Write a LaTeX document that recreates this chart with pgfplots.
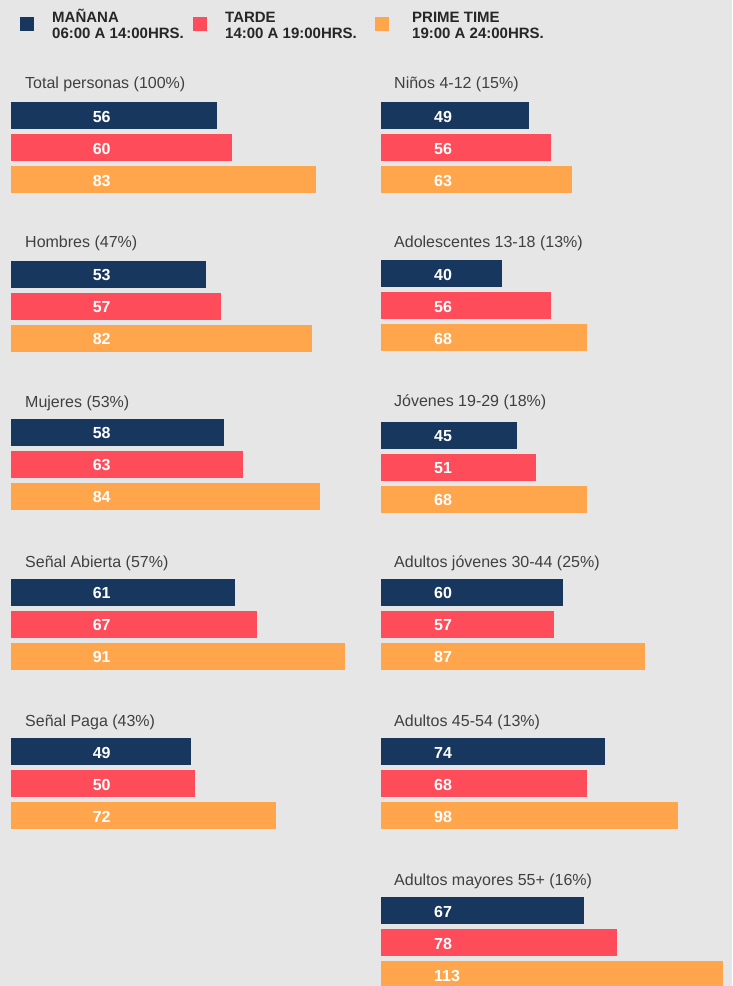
\documentclass[border=0pt]{standalone}
\usepackage{pgfplots}
\pgfplotsset{compat=1.18}
\usepackage{fontspec}
\setmainfont{Liberation Sans}
\definecolor{bg}{HTML}{E6E6E6}
\definecolor{cnavy}{HTML}{17375E}
\definecolor{cred}{HTML}{FF4C5B}
\definecolor{corange}{HTML}{FFA64D}
\definecolor{ctext}{HTML}{404040}
\definecolor{clegend}{HTML}{262626}

% #1 x0, #2 ytop, #3 unit, #4 xmax, #5 label x, #6 v1, #7 v2, #8 v3
\newcommand{\panel}[8]{%
\begin{axis}[at={(#1pt,-#2pt)}, anchor=north west, hide axis,
  x=#3pt, y=32pt, y dir=reverse, xmin=0, xmax=#4, ymin=0.5, ymax=3.5,
  clip=false]
\addplot[xbar, bar width=27pt, bar shift=0pt, fill=cnavy, draw=none] coordinates {(#6,1)};
\addplot[xbar, bar width=27pt, bar shift=0pt, fill=cred, draw=none] coordinates {(#7,2)};
\addplot[xbar, bar width=27pt, bar shift=0pt, fill=corange, draw=none] coordinates {(#8,3)};
\addplot[draw=none, mark=none, nodes near coords, point meta=explicit symbolic,
  nodes near coords style={anchor=west, inner sep=0pt, text=white, yshift=-1pt,
  font=\bfseries\fontsize{16}{16}\selectfont}]
  coordinates {(#5,1) [#6] (#5,2) [#7] (#5,3) [#8]};
\end{axis}}
\newcommand{\lpanel}[4]{\panel{11.5}{#1}{3.67}{100}{22.1}{#2}{#3}{#4}}
\newcommand{\rpanel}[4]{\panel{381}{#1}{3.03}{115}{17.5}{#2}{#3}{#4}}

\begin{document}
\begin{tikzpicture}
\path[use as bounding box, fill=bg] (0,0) rectangle (732pt,-986pt);

% legend
\tikzset{legtxt/.style={anchor=base west, inner sep=0pt, text=clegend, font=\bfseries\fontsize{15}{16}\selectfont},
  ttl/.style={anchor=base west, inner sep=0pt, text=ctext, font=\fontsize{16}{19}\selectfont}}
\fill[cnavy] (20pt,-17pt) rectangle (34pt,-31pt);
\node[legtxt] at (52pt,-22pt) {MAÑANA};
\node[legtxt] at (52pt,-38pt) {06:00 A 14:00HRS.};
\fill[cred] (193pt,-17pt) rectangle (207pt,-31pt);
\node[legtxt] at (225pt,-22pt) {TARDE};
\node[legtxt] at (225pt,-38pt) {14:00 A 19:00HRS.};
\fill[corange] (375pt,-17pt) rectangle (389pt,-31pt);
\node[legtxt] at (412pt,-22pt) {PRIME TIME};
\node[legtxt] at (412pt,-38pt) {19:00 A 24:00HRS.};

% left column
\node[ttl] at (25pt,-88.7pt) {Total personas (100\%)};
\lpanel{99.5}{56}{60}{83}
\node[ttl] at (25pt,-247.7pt) {Hombres (47\%)};
\lpanel{258.3}{53}{57}{82}
\node[ttl] at (25pt,-407.7pt) {Mujeres (53\%)};
\lpanel{416.3}{58}{63}{84}
\node[ttl] at (25pt,-567.7pt) {Señal Abierta (57\%)};
\lpanel{576.3}{61}{67}{91}
\node[ttl] at (25pt,-726.7pt) {Señal Paga (43\%)};
\lpanel{735.5}{49}{50}{72}

% right column
\node[ttl] at (394pt,-88.7pt) {Niños 4-12 (15\%)};
\rpanel{99.5}{49}{56}{63}
\node[ttl] at (394pt,-247.7pt) {Adolescentes 13-18 (13\%)};
\rpanel{257.5}{40}{56}{68}
\node[ttl] at (394pt,-406pt) {Jóvenes 19-29 (18\%)};
\rpanel{419.3}{45}{51}{68}
\node[ttl] at (394pt,-567.7pt) {Adultos jóvenes 30-44 (25\%)};
\rpanel{576.3}{60}{57}{87}
\node[ttl] at (394pt,-726.7pt) {Adultos 45-54 (13\%)};
\rpanel{735.5}{74}{68}{98}
\node[ttl] at (394pt,-885pt) {Adultos mayores 55+ (16\%)};
\rpanel{894.5}{67}{78}{113}
\end{tikzpicture}
\end{document}
